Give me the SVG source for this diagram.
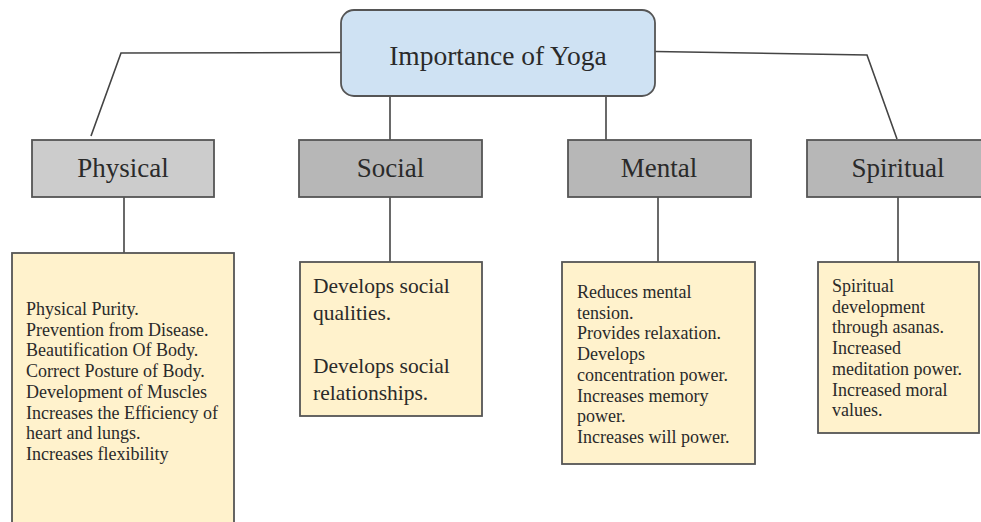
<svg xmlns="http://www.w3.org/2000/svg" width="981" height="522" viewBox="0 0 981 522">
  <style>
    .root { fill: #cfe2f3; stroke: #555555; stroke-width: 1.8; }
    .cat-light { fill: #cccccc; stroke: #555555; stroke-width: 1.8; }
    .cat { fill: #b7b7b7; stroke: #555555; stroke-width: 1.8; }
    .detail { fill: #fff2cc; stroke: #555555; stroke-width: 1.8; }
    .link { fill: none; stroke: #444444; stroke-width: 1.6; }
    text { font-family: "Liberation Serif", "Times New Roman", serif; fill: #2a2a2a; }
    .title { font-size: 27.5px; text-anchor: middle; }
    .cat-label { font-size: 27px; text-anchor: middle; }
    .big { font-size: 21.5px; }
    .small { font-size: 18px; }
  </style>

  <rect width="981" height="522" fill="#ffffff"/>

  <!-- connectors -->
  <g id="connectors">
    <polyline class="link" points="341,52.5 121,53 91,136"/>
    <polyline class="link" points="655,51.5 867,55 897,139"/>
    <line class="link" x1="390" y1="97" x2="390" y2="140"/>
    <line class="link" x1="606" y1="96" x2="606" y2="140"/>
    <line class="link" x1="124" y1="197" x2="124" y2="253"/>
    <line class="link" x1="390" y1="197" x2="390" y2="262"/>
    <line class="link" x1="658" y1="197" x2="658" y2="262"/>
    <line class="link" x1="898" y1="197" x2="898" y2="262"/>
  </g>

  <!-- root -->
  <g id="root">
    <rect class="root" x="341" y="10" width="314" height="86" rx="13" ry="13"/>
    <text class="title" x="498" y="65">Importance of Yoga</text>
  </g>

  <!-- categories -->
  <g id="physical">
    <rect class="cat-light" x="32" y="140" width="182" height="57"/>
    <text class="cat-label" x="123" y="177">Physical</text>
  </g>
  <g id="social">
    <rect class="cat" x="299" y="140" width="183" height="57"/>
    <text class="cat-label" x="390.5" y="177">Social</text>
  </g>
  <g id="mental">
    <rect class="cat" x="568" y="140" width="183" height="57"/>
    <text class="cat-label" x="659" y="177">Mental</text>
  </g>
  <g id="spiritual">
    <rect class="cat" x="807" y="140" width="182" height="57"/>
    <text class="cat-label" x="898" y="177">Spiritual</text>
  </g>

  <!-- details -->
  <g id="physical-details">
    <rect class="detail" x="12" y="253" width="222" height="280"/>
    <text class="small" x="26" y="315">
      <tspan x="26" y="315">Physical Purity.</tspan>
      <tspan x="26" y="335.7">Prevention from Disease.</tspan>
      <tspan x="26" y="356.4">Beautification Of Body.</tspan>
      <tspan x="26" y="377.1">Correct Posture of Body.</tspan>
      <tspan x="26" y="397.8">Development of Muscles</tspan>
      <tspan x="26" y="418.5">Increases the Efficiency of</tspan>
      <tspan x="26" y="439.2">heart and lungs.</tspan>
      <tspan x="26" y="459.9">Increases flexibility</tspan>
    </text>
  </g>
  <g id="social-details">
    <rect class="detail" x="300" y="262" width="182" height="154"/>
    <text class="big" x="313" y="293">
      <tspan x="313" y="293">Develops social</tspan>
      <tspan x="313" y="320">qualities.</tspan>
      <tspan x="313" y="373">Develops social</tspan>
      <tspan x="313" y="400">relationships.</tspan>
    </text>
  </g>
  <g id="mental-details">
    <rect class="detail" x="562" y="262" width="193" height="202"/>
    <text class="small" x="577" y="298">
      <tspan x="577" y="298">Reduces mental</tspan>
      <tspan x="577" y="318.7">tension.</tspan>
      <tspan x="577" y="339.4">Provides relaxation.</tspan>
      <tspan x="577" y="360.1">Develops</tspan>
      <tspan x="577" y="380.8">concentration power.</tspan>
      <tspan x="577" y="401.5">Increases memory</tspan>
      <tspan x="577" y="422.2">power.</tspan>
      <tspan x="577" y="442.9">Increases will power.</tspan>
    </text>
  </g>
  <g id="spiritual-details">
    <rect class="detail" x="818" y="262" width="161" height="171"/>
    <text class="small" x="832" y="292">
      <tspan x="832" y="292">Spiritual</tspan>
      <tspan x="832" y="312.7">development</tspan>
      <tspan x="832" y="333.4">through asanas.</tspan>
      <tspan x="832" y="354.1">Increased</tspan>
      <tspan x="832" y="374.8">meditation power.</tspan>
      <tspan x="832" y="395.5">Increased moral</tspan>
      <tspan x="832" y="416.2">values.</tspan>
    </text>
  </g>
</svg>
